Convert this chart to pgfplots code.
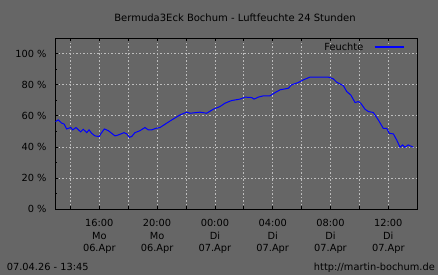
\documentclass[border=0pt]{standalone}
\usepackage{fontspec}
\setmainfont{DejaVu Sans}
\usepackage{pgfplots}
\pgfplotsset{compat=1.18}
\definecolor{bg}{RGB}{102,102,102}
\definecolor{gridc}{RGB}{190,190,190}
\definecolor{lineblue}{RGB}{0,0,255}
\newcommand\lf{\fontsize{9.8bp}{12.5bp}\selectfont}
\newcommand\tf{\fontsize{10bp}{12bp}\selectfont}
\begin{document}
\begin{tikzpicture}
\fill[bg] (0,0) rectangle (438bp,275bp);
\useasboundingbox (0,0) rectangle (438bp,275bp);
\begin{axis}[
  at={(55.3bp,66bp)}, anchor=south west,
  scale only axis, width=362bp, height=170.7bp,
  xmin=12.955, xmax=38.007, ymin=0, ymax=110,
  axis background/.style={fill=bg},
  axis line style={black, line width=1bp},
  xtick={14,16,...,36},
  xticklabels={,16:00\\Mo\\06.Apr,,20:00\\Mo\\06.Apr,,00:00\\Di\\07.Apr,,04:00\\Di\\07.Apr,,08:00\\Di\\07.Apr,,12:00\\Di\\07.Apr},
  ytick={0,20,...,100},
  yticklabels={0 \%,20 \%,40 \%,60 \%,80 \%,100 \%},
  minor ytick={10,30,...,90},
  grid=major,
  major grid style={gridc, dash pattern=on 1.5bp off 2bp, line width=0.8bp},
  tick align=inside,
  xtick pos=both, ytick pos=left,
  major tick length=2.5bp, minor tick length=2bp,
  tick style={black, line width=0.8bp},
  x tick label style={font=\lf, align=center, anchor=north, inner sep=0pt, yshift=-10.3bp},
  y tick label style={font=\lf, anchor=east, inner sep=0pt, xshift=-8.6bp},
  legend plot pos=right,
  legend style={draw=none, fill=none, at={(rel axis cs:1,1)}, anchor=north east,
    xshift=-12.8bp, yshift=-4.1bp, inner sep=0pt, font=\lf, column sep=10.7bp,
    nodes={inner sep=0pt}},
  legend image code/.code={\draw[draw=lineblue, line width=1.3bp] (0bp,0bp) -- (29bp,0bp);},
]
\addplot[lineblue, line width=1bp] coordinates {
(12.96,56.3) (13.16,57.4) (13.40,55.3) (13.56,54.8) (13.74,51.6) (14.02,52.5)
(14.16,51.0) (14.39,52.5) (14.71,49.7) (14.89,51.4) (15.13,49.2) (15.29,51.0)
(15.47,48.8) (15.70,47.1) (16.00,46.7) (16.10,48.4) (16.35,51.6) (16.62,50.5)
(17.09,47.1) (17.31,47.7) (17.71,49.2) (17.90,48.4) (18.08,46.2) (18.24,46.7)
(18.47,49.2) (18.82,50.5) (19.16,52.5) (19.39,51.0) (19.63,51.0) (19.92,52.0)
(20.20,52.5) (20.66,55.3) (21.12,58.0) (21.58,60.6) (22.05,62.4) (22.28,61.7)
(22.97,62.4) (23.43,61.7) (23.89,64.3) (24.35,66.0) (24.70,68.2) (25.16,69.9)
(25.73,70.8) (26.08,72.1) (26.55,71.8) (26.71,70.8) (27.00,72.1) (27.35,72.9)
(27.81,72.9) (28.16,75.0) (28.51,76.8) (29.08,77.8) (29.31,80.0) (29.77,81.5)
(30.12,83.2) (30.58,85.0) (31.85,85.0) (32.19,83.9) (32.43,81.7) (32.89,79.5)
(33.12,75.7) (33.40,73.5) (33.70,68.6) (33.92,69.2) (34.09,68.2) (34.39,64.3)
(34.62,62.8) (34.96,62.2) (35.31,57.4) (35.65,52.0) (35.89,52.0) (36.07,48.8)
(36.35,48.4) (36.58,44.5) (36.81,39.8) (36.99,41.3) (37.15,39.8) (37.38,41.3)
(37.73,39.8)
};
\addlegendentry{Feuchte}
\end{axis}
\node[anchor=base, inner sep=0pt, font=\tf] at (235bp,253bp) {Bermuda3Eck Bochum - Luftfeuchte 24 Stunden};
\node[anchor=base west, inner sep=0pt, font=\lf] at (6.7bp,5bp) {07.04.26 - 13:45};
\node[anchor=base east, inner sep=0pt, font=\lf] at (435bp,5bp) {http://martin-bochum.de};
\end{tikzpicture}
\end{document}
